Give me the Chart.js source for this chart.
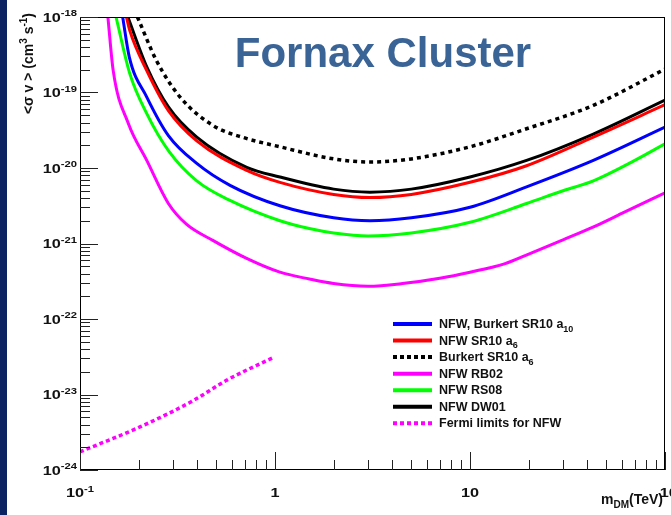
<!DOCTYPE html>
<html>
<head>
<meta charset="utf-8">
<script src="https://cdn.jsdelivr.net/npm/chart.js@4/dist/chart.umd.min.js"></script>
<style>
  html, body { margin: 0; padding: 0; background: #fff; overflow: hidden; }
  canvas { display: block; }
</style>
</head>
<body>
<canvas id="c" width="671" height="515"></canvas>
<script>
// Dark-matter mass grids (TeV) and <sigma v> upper limits (cm^3 s^-1) per halo model

const nfwBurkertA10Mass  = [0.1655, 0.179, 0.22, 0.284, 0.397, 0.588, 1.06, 2, 3.07, 5, 10, 19.5, 42.9, 100];
const nfwBurkertA10Sigma = [1e-18, 2.95e-19, 8.7e-20, 2.69e-20, 1.15e-20, 5.89e-21, 3.16e-21, 2.19e-21, 2.0e-21, 2.19e-21, 3.02e-21, 5.62e-21, 1.26e-20, 3.47e-20];

const nfwA6Mass  = [0.173, 0.18, 0.22, 0.284, 0.397, 0.716, 1.06, 2, 3.07, 5, 10, 19.5, 42.9, 100];
const nfwA6Sigma = [1e-18, 6.6e-19, 1.95e-19, 5.75e-20, 2.29e-20, 9.3e-21, 6.46e-21, 4.47e-21, 4.07e-21, 4.47e-21, 6.46e-21, 1.07e-20, 2.57e-20, 6.9e-20];

const burkertA6Mass  = [0.197, 0.247, 0.326, 0.483, 0.7, 1.06, 2, 3.07, 5, 10, 19.5, 42.9, 100];
const burkertA6Sigma = [1e-18, 2.63e-19, 8.7e-20, 3.63e-20, 2.5e-20, 1.91e-20, 1.32e-20, 1.2e-20, 1.32e-20, 1.91e-20, 3.31e-20, 6.76e-20, 2.04e-19];

const nfwRB02Mass  = [0.139, 0.148, 0.177, 0.22, 0.284, 0.35, 0.48, 0.72, 1.06, 1.5, 2, 3, 4.5, 7, 10, 15, 20, 30, 43, 60, 100];
const nfwRB02Sigma = [1e-18, 1.95e-19, 3.89e-20, 1.26e-20, 3.39e-21, 1.82e-21, 1.1e-21, 6.3e-22, 4.17e-22, 3.39e-22, 2.95e-22, 2.72e-22, 2.95e-22, 3.47e-22, 4.17e-22, 5.37e-22, 7.24e-22, 1.12e-21, 1.66e-21, 2.5e-21, 4.68e-21];

const nfwRS08Mass  = [0.153, 0.18, 0.22, 0.284, 0.397, 0.588, 1.06, 1.5, 2, 3, 5, 10, 19.5, 30, 42.9, 70, 100];
const nfwRS08Sigma = [1e-18, 1.78e-19, 5.25e-20, 1.7e-20, 6.76e-21, 3.72e-21, 2.0e-21, 1.58e-21, 1.38e-21, 1.26e-21, 1.38e-21, 1.91e-21, 3.39e-21, 5.0e-21, 6.76e-21, 1.26e-20, 2.09e-20];

const nfwDW01Mass  = [0.176, 0.22, 0.284, 0.397, 0.716, 1.06, 2, 3.07, 5, 10, 19.5, 42.9, 100];
const nfwDW01Sigma = [1e-18, 2.19e-19, 6.46e-20, 2.57e-20, 1.02e-20, 7.6e-21, 5.25e-21, 4.79e-21, 5.25e-21, 7.6e-21, 1.26e-20, 2.82e-20, 7.94e-20];

const fermiNfwMass  = [0.1, 0.203, 0.381, 0.566, 0.98];
const fermiNfwSigma = [1.74e-24, 3.72e-24, 8.3e-24, 1.55e-23, 3.09e-23];

// Axis tick values and their labels ([mantissa, exponent])
const xTickValues = [0.1, 1, 10, 100];
const xTickLabels = [['10', '-1'], ['1', ''], ['10', ''], ['10', '2']];
const yTickValues = [1e-24, 1e-23, 1e-22, 1e-21, 1e-20, 1e-19, 1e-18];
const yTickLabels = [['10', '-24'], ['10', '-23'], ['10', '-22'], ['10', '-21'], ['10', '-20'], ['10', '-19'], ['10', '-18']];

// Legend entries as rich-text pieces: [text, 'n' | 'sub' | 'sup']
const legendLabels = [
  [['NFW, Burkert SR10 a', 'n'], ['10', 'sub']],
  [['NFW SR10 a', 'n'], ['6', 'sub']],
  [['Burkert SR10 a', 'n'], ['6', 'sub']],
  [['NFW RB02', 'n']],
  [['NFW RS08', 'n']],
  [['NFW DW01', 'n']],
  [['Fermi limits for NFW', 'n']]
];

const FONT = '"Liberation Sans", Arial, Helvetica, sans-serif';

function pts(xs, ys) { return xs.map((x, i) => ({ x: x, y: ys[i] })); }

function drawRich(ctx, parts, x, y, align, size, sx) {
  sx = sx || 1;
  ctx.save();
  ctx.translate(x, y);
  ctx.scale(sx, 1);
  ctx.textBaseline = 'alphabetic';
  ctx.textAlign = 'left';
  const specs = parts.map(([t, k]) => {
    const s = k === 'n' ? size : Math.round(size * 0.68);
    const dy = k === 'sup' ? -size * 0.42 : (k === 'sub' ? size * 0.3 : 0);
    ctx.font = 'bold ' + s + 'px ' + FONT;
    return { t, s, dy, w: ctx.measureText(t).width };
  });
  const total = specs.reduce((a, b) => a + b.w, 0);
  let cx = align === 'right' ? -total : (align === 'center' ? -total / 2 : 0);
  specs.forEach(sp => {
    ctx.font = 'bold ' + sp.s + 'px ' + FONT;
    ctx.fillText(sp.t, cx, sp.dy);
    cx += sp.w;
  });
  ctx.restore();
}

const datasets = [
  { data: pts(nfwBurkertA10Mass, nfwBurkertA10Sigma), borderColor: '#0000ff', borderWidth: 3 },
  { data: pts(nfwA6Mass, nfwA6Sigma), borderColor: '#ff0000', borderWidth: 3 },
  { data: pts(burkertA6Mass, burkertA6Sigma), borderColor: '#000000', borderWidth: 3.5, borderDash: [4, 4] },
  { data: pts(nfwRB02Mass, nfwRB02Sigma), borderColor: '#ff00ff', borderWidth: 3 },
  { data: pts(nfwRS08Mass, nfwRS08Sigma), borderColor: '#00ff00', borderWidth: 3 },
  { data: pts(nfwDW01Mass, nfwDW01Sigma), borderColor: '#000000', borderWidth: 3 },
  { data: pts(fermiNfwMass, fermiNfwSigma), borderColor: '#ff00ff', borderWidth: 3.5, borderDash: [4, 3] }
];

// Frame, inward ticks, tick labels, axis titles, legend and heading
const decorations = {
  id: 'decorations',
  beforeDraw(chart) {
    const ctx = chart.ctx;
    ctx.save();
    ctx.fillStyle = '#ffffff';
    ctx.fillRect(0, 0, chart.width, chart.height);
    ctx.fillStyle = '#0a2361';
    ctx.fillRect(0, 0, 7, chart.height);
    ctx.restore();
  },
  afterDraw(chart) {
    const ctx = chart.ctx;
    const a = chart.chartArea;
    const xs = chart.scales.x, ys = chart.scales.y;
    ctx.save();

    // frame
    ctx.strokeStyle = '#000';
    ctx.lineWidth = 1;
    ctx.strokeRect(a.left + 0.5, a.top + 0.5, a.right - a.left - 1, a.bottom - a.top - 1);

    // y ticks (major + minor), drawn inward from the left axis
    ctx.strokeStyle = '#222';
    ctx.beginPath();
    yTickValues.forEach((v, i) => {
      const py = Math.round(ys.getPixelForValue(v)) + 0.5;
      ctx.moveTo(a.left, py); ctx.lineTo(a.left + 18, py);
      if (i < yTickValues.length - 1) {
        for (let k = 2; k <= 9; k++) {
          const my = Math.round(ys.getPixelForValue(v * k)) + 0.5;
          ctx.moveTo(a.left, my); ctx.lineTo(a.left + 10, my);
        }
      }
    });
    // x ticks, drawn upward from the bottom axis
    xTickValues.forEach((v, i) => {
      const px = Math.round(xs.getPixelForValue(v)) + 0.5;
      ctx.moveTo(px, a.bottom); ctx.lineTo(px, a.bottom - 18);
      if (i < xTickValues.length - 1) {
        for (let k = 2; k <= 9; k++) {
          const mx = Math.round(xs.getPixelForValue(v * k)) + 0.5;
          ctx.moveTo(mx, a.bottom); ctx.lineTo(mx, a.bottom - 10);
        }
      }
    });
    ctx.stroke();

    // tick labels
    ctx.fillStyle = '#111';
    yTickValues.forEach((v, i) => {
      const [m, e] = yTickLabels[i];
      drawRich(ctx, [[m, 'n'], [e, 'sup']], a.left - 3, ys.getPixelForValue(v) + 4.5, 'right', 13, 1.25);
    });
    xTickValues.forEach((v, i) => {
      const [m, e] = xTickLabels[i];
      const parts = e ? [[m, 'n'], [e, 'sup']] : [[m, 'n']];
      const px = xs.getPixelForValue(v) + (i === xTickValues.length - 1 ? 7 : 0);
      drawRich(ctx, parts, px, a.bottom + 27, 'center', 13, 1.25);
    });

    // axis titles
    drawRich(ctx, [['m', 'n'], ['DM', 'sub'], ['(TeV)', 'n']], a.right - 2, 504, 'right', 14);
    ctx.save();
    ctx.translate(33, 13);
    ctx.rotate(-Math.PI / 2);
    drawRich(ctx, [['<\u03c3 v > (cm', 'n'], ['3', 'sup'], [' s', 'n'], ['-1', 'sup'], [')', 'n']], 0, 0, 'right', 14);
    ctx.restore();

    // legend
    const lx0 = 393, lx1 = 432, tx = 439, ly0 = 324, step = 16.55;
    chart.data.datasets.forEach((ds, i) => {
      const ly = ly0 + i * step;
      ctx.save();
      ctx.strokeStyle = ds.borderColor;
      ctx.lineWidth = 4;
      ctx.setLineDash(ds.borderDash ? [4, 3] : []);
      ctx.beginPath();
      ctx.moveTo(lx0, ly); ctx.lineTo(lx1, ly);
      ctx.stroke();
      ctx.restore();
      ctx.fillStyle = '#111';
      drawRich(ctx, legendLabels[i], tx, ly + 4, 'left', 12.5);
    });

    // heading
    ctx.fillStyle = '#3a6496';
    ctx.font = 'bold 42px ' + FONT;
    ctx.textAlign = 'center';
    ctx.textBaseline = 'alphabetic';
    ctx.fillText('Fornax Cluster', 383, 67);

    ctx.restore();
  }
};

new Chart(document.getElementById('c'), {
  type: 'line',
  data: { datasets: datasets },
  options: {
    responsive: false,
    animation: false,
    events: [],
    layout: { padding: { left: 80, right: 6, top: 17, bottom: 45 } },
    elements: {
      point: { radius: 0 },
      line: { cubicInterpolationMode: 'monotone', borderCapStyle: 'butt', borderJoinStyle: 'round', fill: false }
    },
    plugins: { legend: { display: false }, tooltip: { enabled: false }, title: { display: false } },
    scales: {
      x: { type: 'logarithmic', min: 0.1, max: 100, display: false },
      y: { type: 'logarithmic', min: 1e-24, max: 1e-18, display: false }
    }
  },
  plugins: [decorations]
});
</script>
</body>
</html>
